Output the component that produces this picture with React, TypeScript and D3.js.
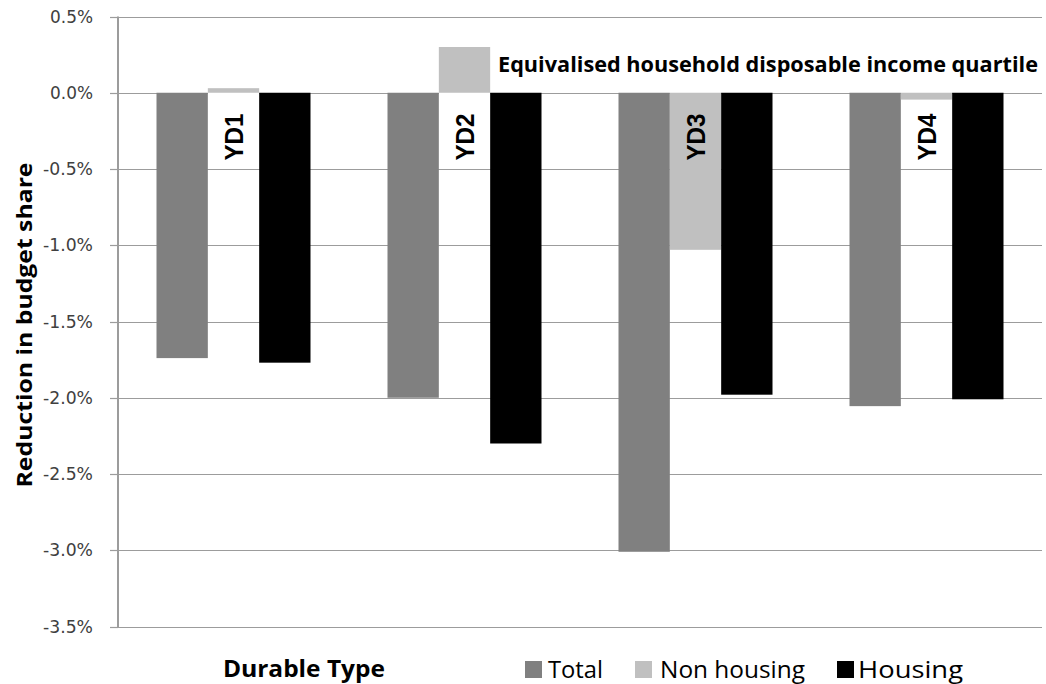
import React from "react";
import * as d3 from "d3";

const categories = ["YD1", "YD2", "YD3", "YD4"];
const seriesNames = ["Total", "Non housing", "Housing"];
const totalValues = [-1.74, -2.0, -3.01, -2.055];
const nonHousingValues = [0.03, 0.3, -1.03, -0.045];
const housingValues = [-1.77, -2.3, -1.98, -2.01];
const seriesColors = ["#808080", "#C0C0C0", "#000000"];
const yTicks = [0.5, 0, -0.5, -1.0, -1.5, -2.0, -2.5, -3.0, -3.5];
const yTitle = "Reduction in budget share";
const xTitle = "Durable Type";
const chartNote = "Equivalised household disposable income quartile";

const W = 1046;
const H = 684;
const left = 118;
const right = 1042;
const top = 16.5;
const bottom = 626.5;

export default function App() {
  const seriesValues = [totalValues, nonHousingValues, housingValues];
  const y = d3.scaleLinear().domain([-3.5, 0.5]).range([bottom, top]);
  const x0 = d3.scaleBand<string>().domain(categories).range([left, right]).padding(0);
  const x1 = d3
    .scaleBand<string>()
    .domain(seriesNames)
    .range([0, x0.bandwidth()])
    .paddingInner(0)
    .paddingOuter(0.75);
  const fmt = (v: number) => (v < 0 ? "-" : "") + Math.abs(v).toFixed(1) + "%";
  const gridColor = "#9C9C9C";

  const legendItems = [
    { name: "Total", sx: 525, tx: 548, tl: 55 },
    { name: "Non housing", sx: 635, tx: 660, tl: 145 },
    { name: "Housing", sx: 837, tx: 858, tl: 105 },
  ];

  return (
    <svg
      width={W}
      height={H}
      style={{ position: "absolute", left: 0, top: 0, background: "#fff" }}
    >
      {/* gridlines */}
      {yTicks.map((t) => (
        <line
          key={"g" + t}
          x1={left}
          x2={right}
          y1={Math.round(y(t)) + 0.5}
          y2={Math.round(y(t)) + 0.5}
          stroke={gridColor}
          strokeWidth={1.2}
        />
      ))}
      {/* tick marks & labels */}
      {yTicks.map((t) => (
        <g key={"t" + t}>
          <line
            x1={left - 8}
            x2={left}
            y1={Math.round(y(t)) + 0.5}
            y2={Math.round(y(t)) + 0.5}
            stroke={gridColor}
            strokeWidth={1.2}
          />
          <text
            x={93}
            y={y(t)}
            dy="0.36em"
            textAnchor="end"
            fontFamily="'DejaVu Sans', Verdana, sans-serif"
            fontSize={17}
            textLength={t < 0 ? 50 : 43}
            lengthAdjust="spacingAndGlyphs"
            fill="#404040"
          >
            {fmt(t)}
          </text>
        </g>
      ))}
      {/* white label boxes */}
      {categories.map((c, i) => {
        const v = nonHousingValues[i];
        const y0 = y(Math.min(0, v));
        const y1 = y(-0.5);
        return (
          <rect
            key={"box" + c}
            x={x0(c)! + x1("Non housing")!}
            y={y0}
            width={x1.bandwidth()}
            height={Math.max(0, y1 - y0 - 1)}
            fill="#ffffff"
          />
        );
      })}
      {/* bars */}
      {categories.map((c, i) => (
        <g key={"bars" + c}>
          {seriesNames.map((s, j) => {
            const v = seriesValues[j][i];
            const ya = y(Math.max(0, v));
            const yb = y(Math.min(0, v));
            return (
              <rect
                key={s}
                x={x0(c)! + x1(s)!}
                y={ya}
                width={x1.bandwidth()}
                height={yb - ya}
                fill={seriesColors[j]}
              />
            );
          })}
        </g>
      ))}
      {/* y axis line */}
      <line x1={left} x2={left} y1={top} y2={bottom + 1} stroke={gridColor} strokeWidth={2} />
      {/* category labels */}
      {categories.map((c) => {
        const cx = x0(c)! + x1("Non housing")! + x1.bandwidth() / 2;
        const cy = 137;
        return (
          <text
            key={"lab" + c}
            transform={`translate(${cx},${cy}) rotate(-90)`}
            textAnchor="middle"
            dy="0.36em"
            fontFamily="'Liberation Sans', Arial, sans-serif"
            fontWeight="bold"
            fontSize={25}
            textLength={47}
            lengthAdjust="spacingAndGlyphs"
            fill="#000"
          >
            {c}
          </text>
        );
      })}
      {/* note */}
      <text
        x={498}
        y={72}
        fontFamily="'Open Sans', sans-serif"
        fontWeight="bold"
        fontSize={21}
        textLength={540}
        lengthAdjust="spacingAndGlyphs"
        fill="#000"
      >
        {chartNote}
      </text>
      {/* y title */}
      <text
        transform={`translate(32,325) rotate(-90)`}
        textAnchor="middle"
        fontFamily="'Open Sans', sans-serif"
        fontWeight="bold"
        fontSize={22}
        textLength={325}
        lengthAdjust="spacingAndGlyphs"
        fill="#000"
      >
        {yTitle}
      </text>
      {/* x title */}
      <text
        x={223}
        y={677}
        fontFamily="'Open Sans', sans-serif"
        fontWeight="bold"
        fontSize={23}
        textLength={162}
        lengthAdjust="spacingAndGlyphs"
        fill="#000"
      >
        {xTitle}
      </text>
      {/* legend */}
      {legendItems.map((it, j) => (
        <g key={"leg" + it.name}>
          <rect x={it.sx} y={661} width={17} height={17} fill={seriesColors[j]} />
          <text
            x={it.tx}
            y={678}
            fontFamily="'Open Sans', sans-serif"
            fontSize={24}
            textLength={it.tl}
            lengthAdjust="spacingAndGlyphs"
            fill="#000"
          >
            {it.name}
          </text>
        </g>
      ))}
    </svg>
  );
}
